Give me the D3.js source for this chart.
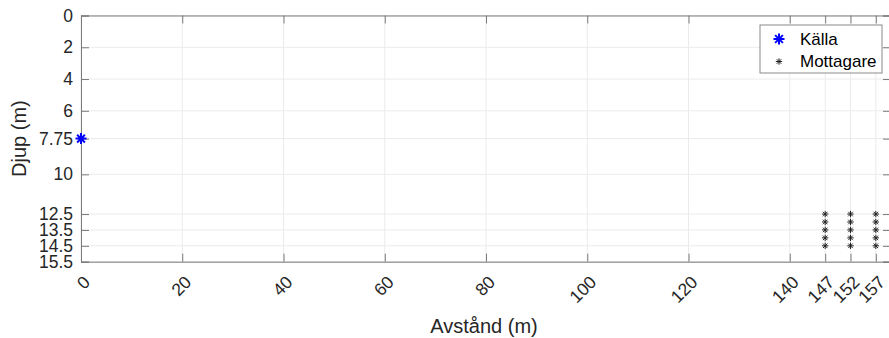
<!DOCTYPE html>
<html><head><meta charset="utf-8">
<script src="https://cdn.jsdelivr.net/npm/d3@7"></script>
<style>body{margin:0;background:#fff;} svg{display:block;font-family:"Liberation Sans",Arial,sans-serif;}</style>
</head><body>
<script>
// Data
const xTicks = [0, 20, 40, 60, 80, 100, 120, 140, 147, 152, 157];
const yTicks = [0, 2, 4, 6, 7.75, 10, 12.5, 13.5, 14.5, 15.5];
const sourceX = [0];
const sourceDepth = [7.75];
const receiverX = [147, 152, 157];
const receiverDepth = [12.5, 13, 13.5, 14, 14.5];
const legendLabels = ["Källa", "Mottagare"];
const xLabel = "Avstånd (m)";
const yLabel = "Djup (m)";

const W = 889, H = 338;
const L = 81, R = 891, T = 15.5, B = 261.7;
const x = d3.scaleLinear().domain([0, 160]).range([L, R]);
const y = d3.scaleLinear().domain([0, 15.5]).range([T, B]);

const svg = d3.select("body").append("svg").attr("width", W).attr("height", H);
const axisColor = "#7a7a7a", gridColor = "#ebebeb", textColor = "#262626";

// grid
svg.append("g").selectAll("line").data(xTicks).join("line")
  .attr("x1", d => x(d)).attr("x2", d => x(d)).attr("y1", T).attr("y2", B)
  .attr("stroke", gridColor).attr("stroke-width", 1);
svg.append("g").selectAll("line").data(yTicks).join("line")
  .attr("y1", d => y(d)).attr("y2", d => y(d)).attr("x1", L).attr("x2", R)
  .attr("stroke", gridColor).attr("stroke-width", 1);

// axes via d3 axes
const tl = 8;
const xAxisB = d3.axisBottom(x).tickValues(xTicks).tickSize(-tl).tickFormat("");
const xAxisT = d3.axisTop(x).tickValues(xTicks).tickSize(-tl).tickFormat("");
const yAxisL = d3.axisLeft(y).tickValues(yTicks).tickSize(-tl).tickFormat("");
const yAxisR = d3.axisRight(y).tickValues(yTicks).tickSize(-tl).tickFormat("");
function styleAxis(g){ g.selectAll("path,line").attr("stroke", axisColor); g.select(".domain").attr("stroke-width",1); }
svg.append("g").attr("transform", `translate(0,${B})`).call(xAxisB).call(styleAxis);
svg.append("g").attr("transform", `translate(0,${T})`).call(xAxisT).call(styleAxis);
svg.append("g").attr("transform", `translate(${L},0)`).call(yAxisL).call(styleAxis);
svg.append("g").attr("transform", `translate(${R},0)`).call(yAxisR).call(styleAxis);

// tick labels
svg.append("g").selectAll("text").data(yTicks).join("text")
  .attr("x", L - 8).attr("y", d => y(d)).attr("text-anchor", "end")
  .attr("dominant-baseline", "central").attr("font-size", 17.5).attr("fill", textColor)
  .text(d => d);
svg.append("g").selectAll("text").data(xTicks).join("text")
  .attr("transform", d => `translate(${x(d) + 6},279) rotate(-45)`)
  .attr("text-anchor", "end").attr("dominant-baseline", "central")
  .attr("font-size", 17.5).attr("fill", textColor).text(d => d);

// axis labels
svg.append("text").attr("x", 484).attr("y", 326).attr("text-anchor", "middle")
  .attr("dominant-baseline", "central").attr("font-size", 20).attr("fill", textColor).text(xLabel);
svg.append("text").attr("transform", `translate(19,${(T + B) / 2}) rotate(-90)`)
  .attr("text-anchor", "middle").attr("dominant-baseline", "central")
  .attr("font-size", 20).attr("fill", textColor).text(yLabel);

// asterisk marker
function asterisk(g, cx, cy, r, color, sw){
  const a = r * 0.7071;
  const p = `M${cx - r},${cy}L${cx + r},${cy}M${cx},${cy - r}L${cx},${cy + r}` +
            `M${cx - a},${cy - a}L${cx + a},${cy + a}M${cx - a},${cy + a}L${cx + a},${cy - a}`;
  g.append("path").attr("d", p).attr("stroke", color).attr("stroke-width", sw).attr("fill", "none");
}
const marks = svg.append("g");
receiverX.forEach(rx => receiverDepth.forEach(rd => asterisk(marks, x(rx), y(rd), 3.2, "#222", 1)));
sourceX.forEach((sx, i) => asterisk(marks, x(sx), y(sourceDepth[i]), 5.5, "#0000ff", 2));

// legend
const lg = svg.append("g");
lg.append("rect").attr("x", 760).attr("y", 25).attr("width", 122).attr("height", 48)
  .attr("fill", "#fff").attr("stroke", "#8a8a8a").attr("stroke-width", 1);
asterisk(lg, 779, 39, 5.5, "#0000ff", 2);
asterisk(lg, 779, 61.5, 3.2, "#222", 1);
lg.selectAll("text").data(legendLabels).join("text")
  .attr("x", 800).attr("y", (d, i) => 39 + i * 22.5).attr("dominant-baseline", "central")
  .attr("font-size", 17).attr("fill", "#000").text(d => d);
</script>
</body></html>
